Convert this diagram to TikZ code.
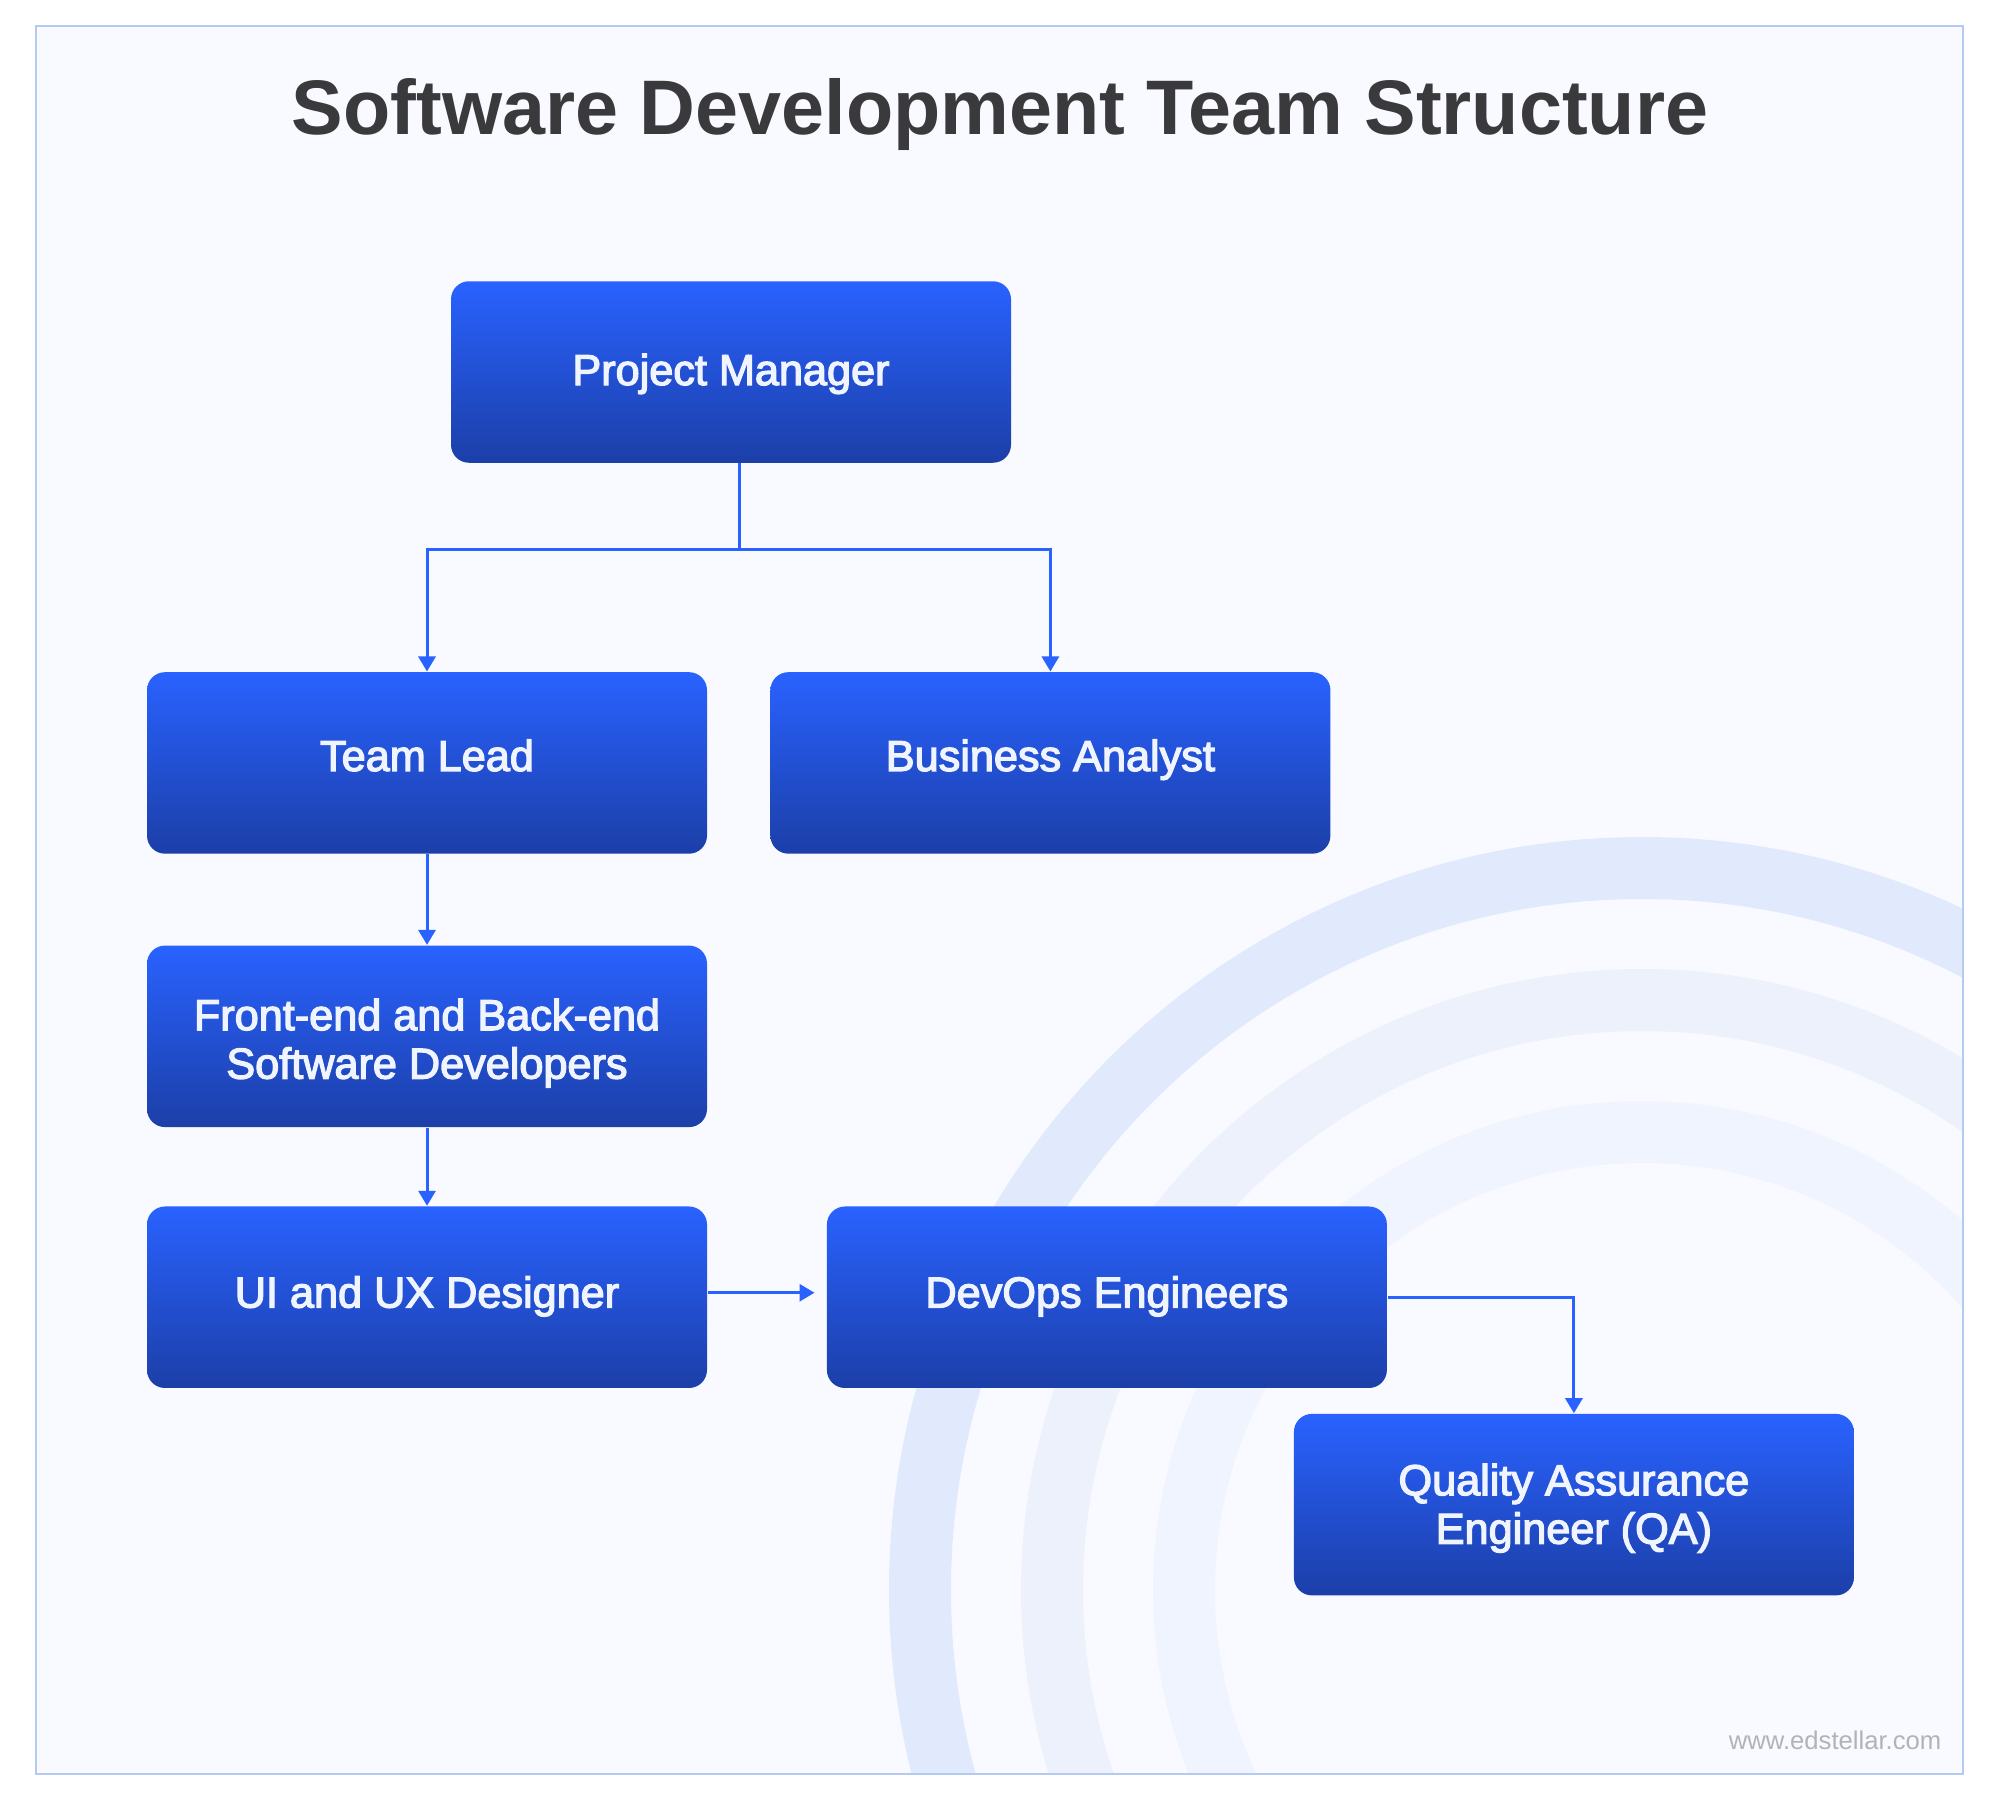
\documentclass[tikz,border=0pt]{standalone}
\usepackage{fontspec}
\setmainfont{Liberation Sans}
\newfontfamily\labelfont{Liberation Sans}[FakeBold=3]
\usetikzlibrary{positioning,arrows.meta}
\definecolor{framefill}{HTML}{F8FAFF}
\definecolor{frameline}{HTML}{B5CAF0}
\definecolor{ringa}{HTML}{E1EAFC}
\definecolor{ringb}{HTML}{ECF1FC}
\definecolor{ringc}{HTML}{EFF4FE}
\definecolor{boxtop}{HTML}{2962FF}
\definecolor{boxbottom}{HTML}{1C3FA8}
\definecolor{boxtext}{HTML}{F0F4FF}
\definecolor{titletext}{HTML}{3A3A3C}
\definecolor{marktext}{HTML}{B0B3BA}
\tikzset{
rolebox/.style={rounded corners=0.18cm,top color=boxtop,bottom color=boxbottom,minimum width=5.6cm,minimum height=1.815cm,inner sep=0pt,text=boxtext,align=center,text height=0.3cm,text depth=0.22cm,font=\labelfont\fontsize{12.3}{13.8}\selectfont},
twoline/.style={text height=,text depth=},
link/.style={draw=boxtop,line width=0.03cm},
linkarrow/.style={link,-{Triangle[length=0.15cm,width=0.17cm]}},
ring/.style={line width=0.62cm}
}
\begin{document}
\begin{tikzpicture}
\useasboundingbox (0,0) rectangle (20,-18);
\fill[framefill] (0.36,-0.26) rectangle (19.63,-17.74);
\begin{scope}
\clip (0.36,-0.26) rectangle (19.63,-17.74);
\draw[ring,ringa] (16.42,-15.9) circle (7.22);
\draw[ring,ringb] (16.42,-15.9) circle (5.9);
\draw[ring,ringc] (16.42,-15.9) circle (4.58);
\end{scope}
\draw[frameline,line width=0.02cm] (0.36,-0.26) rectangle (19.63,-17.74);
\node[font=\bfseries\fontsize{22}{26}\selectfont,text=titletext] (title) at (10,-1.14) {Software Development Team Structure};
\node[rolebox,text depth=0.04cm] (pm) at (7.31,-3.72) {Project Manager};
\node[rolebox,text depth=0.14cm,below=2.08cm of pm,xshift=-3.04cm] (lead) {Team Lead};
\node[rolebox,text depth=0.14cm,right=0.62cm of lead] (analyst) {Business Analyst};
\node[rolebox,twoline,below=0.905cm of lead] (dev) {\rule{0pt}{0.45cm}Front-end and Back-end\\Software Developers};
\node[rolebox,text depth=0.095cm,below=0.78cm of dev] (ui) {UI and UX Designer};
\node[rolebox,text depth=0.095cm,right=1.185cm of ui] (devops) {DevOps Engineers};
\node[rolebox,twoline,below=0.245cm of devops,xshift=4.67cm] (qa) {\rule{0pt}{0.385cm}Quality Assurance\\Engineer (QA)};
\node[anchor=base east,inner sep=0pt,text=marktext,font=\fontsize{7.3}{8}\selectfont] (mark) at (19.42,-17.49) {www.edstellar.com};
\coordinate (branch) at (7.39,-5.49);
\draw[link] (pm.south -| branch)--(branch);
\draw[linkarrow] (branch) -| (lead.north);
\draw[linkarrow] (branch) -| (analyst.north);
\draw[linkarrow] (lead)--(dev);
\draw[linkarrow] (dev)--(ui);
\draw[linkarrow,shorten >=0.117cm] ([yshift=0.045cm]ui.east)--([yshift=0.045cm]devops.west);
\draw[linkarrow] (devops.east) -| (qa.north);
\end{tikzpicture}
\end{document}
